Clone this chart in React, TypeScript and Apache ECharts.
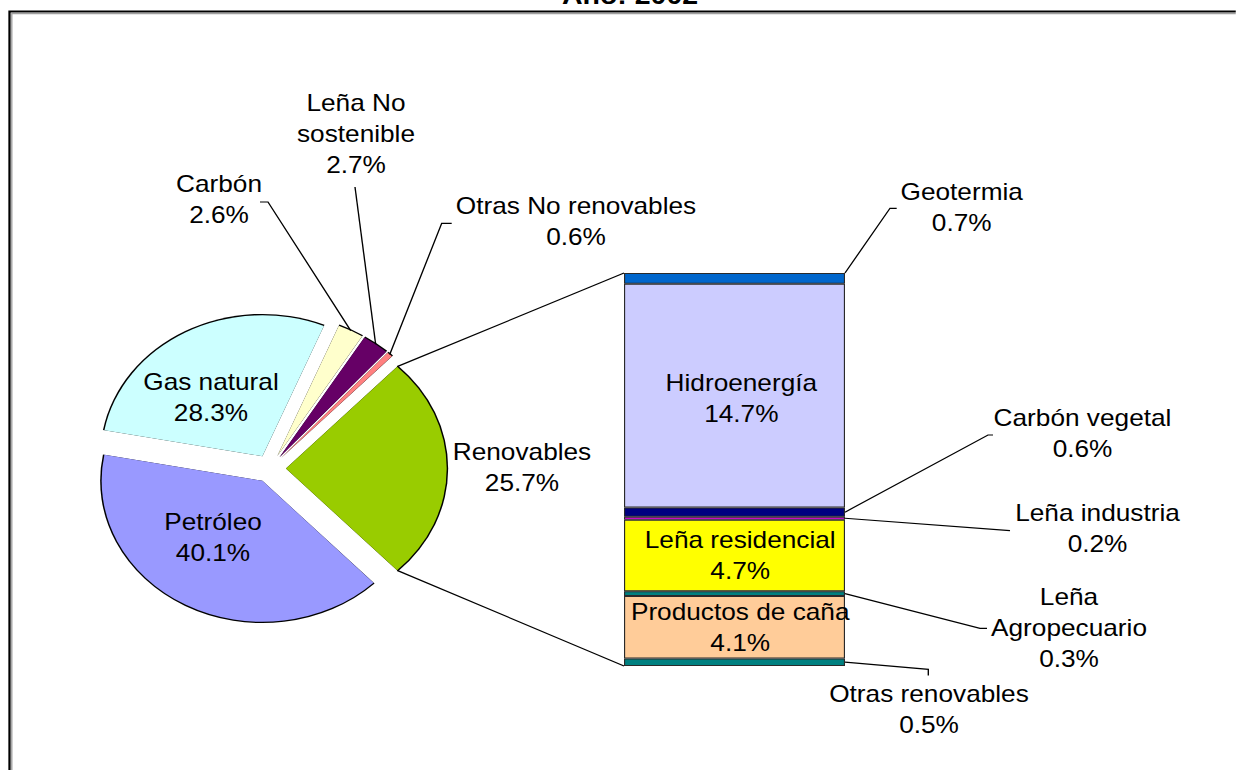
import React, { useEffect, useRef } from 'react';
import * as echarts from 'echarts';

// ---------- data ----------
const pieNames = ['Renovables', 'Petróleo', 'Gas natural', 'Carbón', 'Leña No sostenible', 'Otras No renovables'];
const pieLabels = ['Renovables', 'Petróleo', 'Gas natural', 'Carbón', 'Leña No\nsostenible', 'Otras No renovables'];
const pieValues = [25.7, 40.1, 28.3, 2.6, 2.7, 0.6];
const pieColors = ['#99CC00', '#9999FF', '#CCFFFF', '#FFFFCC', '#660066', '#FF8080'];

// breakdown of "Renovables", bottom to top
const barNames = ['Otras renovables', 'Productos de caña', 'Leña Agropecuario', 'Leña residencial', 'Leña industria', 'Carbón vegetal', 'Hidroenergía', 'Geotermia'];
const barLabels = ['Otras renovables', 'Productos de caña', 'Leña\nAgropecuario', 'Leña residencial', 'Leña industria', 'Carbón vegetal', 'Hidroenergía', 'Geotermia'];
const barValues = [0.5, 4.1, 0.3, 4.7, 0.2, 0.6, 14.7, 0.7];
const barColors = ['#008080', '#FFCC99', '#008080', '#FFFF00', '#FF00FF', '#000080', '#CCCCFF', '#0066CC'];
const barInside = [false, true, false, true, false, false, true, false];

const TITLE = 'Año: 2002';

// ---------- layout ----------
const S = 1.14; // horizontal stretch of the original picture
const W = 1084;
const H = 770;
const PIE_CX = 270 / S;
const PIE_CY = 468.5;
const PIE_R = 141;
const PIE_OFF = 14;
const GRID_L = 624 / S;
const GRID_W = 221 / S;
const GRID_T = 273;
const GRID_H = 393;

// label block centres in picture coordinates
const pieLabelPos: number[][] = [[522, 467.5], [213, 537.5], [211, 397.5], [219, 200], [356, 133.7], [576, 221.5]];
const pieLinePts: (number[][] | null)[] = [null, null, null, [[268, 202], [260, 202]], [[355, 187], [355, 187]], [[441.7, 223.3], [451.7, 223.3]]];
const barLabelPos: (number[] | null)[] = [[929, 710], null, [1069, 628.3], null, [1097.5, 529], [1082.5, 434], null, [961.7, 207.5]];
const barLinePts: (number[][] | null)[] = [[[928.3, 669.3], [928.3, 675.5]], null, [[980, 628.3], [987, 628.3]], null, [[1010, 530.7], [1010, 530.7]], [[988, 435], [993, 435]], null, [[890, 208.3], [896.7, 208.3]]];
const barInsideShift: number[][] = [[0, 0], [5, 0], [0, 0], [5, 0], [0, 0], [0, 0], [6, 3], [0, 0]];

const FONT = '"Liberation Sans", Arial, sans-serif';
const textStyle = { color: '#000', fontSize: 23, lineHeight: 31, fontFamily: FONT, textBorderWidth: 0 };
const lineStyle = { color: '#000', width: 1.2, opacity: 1 };

function buildOption() {
  const pieTotal = pieValues.reduce((a, b) => a + b, 0);
  const barTotal = barValues.reduce((a, b) => a + b, 0);
  const startAngle = (pieValues[0] / pieTotal) * 180;

  // explosion offset of each slice (screen angles, clockwise from east)
  let cum = 0;
  const offsets = pieValues.map((v) => {
    const mid = ((-startAngle + ((cum + v / 2) / pieTotal) * 360) * Math.PI) / 180;
    cum += v;
    return [PIE_OFF * Math.cos(mid), PIE_OFF * Math.sin(mid)];
  });

  const pieCommon = {
    type: 'pie',
    center: [PIE_CX, PIE_CY],
    startAngle,
    clockwise: true,
    avoidLabelOverlap: false,
    emphasis: { disabled: true, scale: false },
    animation: false,
  };

  const series: any[] = [
    {
      ...pieCommon,
      name: 'contorno',
      radius: PIE_R + 1.3,
      silent: true,
      selectedMode: 'multiple',
      selectedOffset: PIE_OFF,
      data: pieNames.map((n, i) => ({ name: n, value: pieValues[i], selected: true })),
      itemStyle: { color: '#000', borderWidth: 0 },
      select: { itemStyle: { color: '#000', borderWidth: 0 } },
      label: { show: false },
      labelLine: { show: false },
      z: 1,
    },
    {
      ...pieCommon,
      name: 'Año 2002',
      radius: PIE_R,
      silent: true,
      selectedMode: 'multiple',
      selectedOffset: PIE_OFF,
      data: pieNames.map((n, i) => ({ name: n, value: pieValues[i], selected: true, itemStyle: { color: pieColors[i] } })),
      itemStyle: { borderWidth: 0 },
      select: { itemStyle: { borderWidth: 0 } },
      label: { show: false },
      labelLine: { show: false },
      z: 2,
    },
    {
      // labels of the pie (same slices, drawn transparent)
      ...pieCommon,
      name: 'etiquetas',
      radius: PIE_R,
      silent: true,
      selectedMode: false,
      data: pieNames.map((n, i) => ({
        name: n,
        value: pieValues[i],
        itemStyle: { color: 'rgba(0,0,0,0)' },
        labelLine: { show: pieLinePts[i] != null, lineStyle },
      })),
      itemStyle: { borderWidth: 0 },
      label: {
        show: true,
        position: 'outside',
        formatter: (p: any) => `${pieLabels[p.dataIndex]}\n${p.value.toFixed(1)}%`,
        ...textStyle,
      },
      labelLine: { show: false, lineStyle },
      labelLayout: (p: any) => {
        const i = p.dataIndex;
        const pos = pieLabelPos[i];
        const res: any = { x: pos[0] / S, y: pos[1], align: 'center', verticalAlign: 'middle' };
        const pts = pieLinePts[i];
        if (pts && p.labelLinePoints) {
          const s0 = p.labelLinePoints[0];
          res.labelLinePoints = [
            [s0[0] + offsets[i][0], s0[1] + offsets[i][1]],
            [pts[0][0] / S, pts[0][1]],
            [pts[1][0] / S, pts[1][1]],
          ];
        }
        return res;
      },
      z: 3,
    },
  ];

  const yOf = (v: number) => GRID_T + GRID_H - (v / barTotal) * GRID_H;
  const leaders: any[] = [];
  let bcum = 0;
  barNames.forEach((n, i) => {
    const v = barValues[i];
    if (!barInside[i]) {
      const pts = barLinePts[i] as number[][];
      const startY = i === barNames.length - 1 ? yOf(bcum + v) : yOf(bcum + v / 2);
      leaders.push({
        type: 'polyline',
        shape: { points: [[GRID_L + GRID_W, startY], [pts[0][0] / S, pts[0][1]], [pts[1][0] / S, pts[1][1]]] },
        style: { fill: 'none', stroke: '#000', lineWidth: 1.2 },
        silent: true,
        z: 10,
      });
    }
    bcum += v;
    series.push({
      type: 'bar',
      name: n,
      stack: 'renovables',
      barWidth: '100%',
      data: [v],
      silent: true,
      emphasis: { disabled: true },
      itemStyle: { color: barColors[i], borderColor: '#2a2a2a', borderWidth: 1 },
      label: {
        show: true,
        position: barInside[i] ? 'inside' : 'right',
        formatter: () => `${barLabels[i]}\n${barValues[i].toFixed(1)}%`,
        ...textStyle,
      },
      labelLine: { show: false },
      labelLayout: barInside[i]
        ? () => ({ dx: barInsideShift[i][0], dy: barInsideShift[i][1] })
        : () => {
            const pos = barLabelPos[i] as number[];
            return { x: pos[0] / S, y: pos[1], align: 'center', verticalAlign: 'middle' };
          },
    });
  });

  // connectors from the Renovables slice to the bar
  const a = (startAngle * Math.PI) / 180;
  const ex = PIE_CX + offsets[0][0] + PIE_R * Math.cos(a);
  const eyTop = PIE_CY + offsets[0][1] - PIE_R * Math.sin(a);
  const eyBot = PIE_CY + offsets[0][1] + PIE_R * Math.sin(a);

  const graphic: any[] = [
    {
      type: 'rect',
      shape: { x: 9.5 / S, y: 11.5, width: 3000, height: 3000 },
      style: { fill: 'none', stroke: '#000', lineWidth: 2 },
      silent: true,
    },
    {
      type: 'polyline',
      shape: { points: [[11.8 / S, 3000], [11.8 / S, 13.6], [3000, 13.6]] },
      style: { fill: 'none', stroke: '#a0a0a0', lineWidth: 1.2 },
      silent: true,
    },
    {
      type: 'text',
      x: 630 / S,
      y: -4,
      style: {
        text: TITLE,
        fill: '#000',
        font: `bold 25px ${FONT}`,
        align: 'center',
        textAlign: 'center',
        verticalAlign: 'middle',
        textVerticalAlign: 'middle',
      },
      silent: true,
    },
    {
      type: 'line',
      shape: { x1: ex, y1: eyTop, x2: GRID_L, y2: GRID_T },
      style: { stroke: '#000', lineWidth: 1.2 },
      silent: true,
    },
    {
      type: 'line',
      shape: { x1: ex, y1: eyBot, x2: GRID_L, y2: GRID_T + GRID_H },
      style: { stroke: '#000', lineWidth: 1.2 },
      silent: true,
    },
    ...leaders,
  ];

  return {
    animation: false,
    backgroundColor: '#fff',
    tooltip: { show: false },
    grid: { left: GRID_L, top: GRID_T, width: GRID_W, height: GRID_H, containLabel: false, outerBoundsMode: 'none' },
    xAxis: { type: 'category', data: ['Renovables'], show: false },
    yAxis: { type: 'value', min: 0, max: barTotal, show: false },
    series,
    graphic,
  };
}

export default function App() {
  const ref = useRef<HTMLDivElement>(null);
  useEffect(() => {
    const el = ref.current as HTMLDivElement;
    el.style.transform = `scaleX(${S})`;
    const r = el.getBoundingClientRect();
    el.style.transform = `translate(${-r.left}px, ${-r.top}px) scaleX(${S})`;
    const chart = echarts.init(el, null, { renderer: 'svg' });
    chart.setOption(buildOption() as any);
    return () => chart.dispose();
  }, []);
  return (
    <div
      ref={ref}
      style={{
        position: 'absolute',
        left: 0,
        top: 0,
        width: W,
        height: H,
        transform: `scaleX(${S})`,
        transformOrigin: '0 0',
      }}
    />
  );
}
